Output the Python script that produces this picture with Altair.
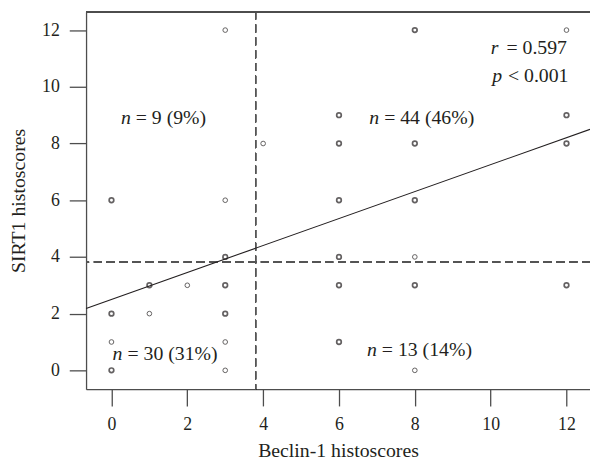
import altair as alt
import pandas as pd

# ---- data ----
beclin = [3, 4, 8, 12, 6, 12, 6, 8, 12, 0, 3, 6, 8, 3, 6, 8,
          1, 2, 3, 6, 8, 12, 0, 1, 3, 0, 3, 6, 0, 3, 8]
sirt1 = [12, 8, 12, 12, 9, 9, 8, 8, 8, 6, 6, 6, 6, 4, 4, 4,
         3, 3, 3, 3, 3, 3, 2, 2, 2, 1, 1, 1, 0, 0, 0]
overlap = [1, 1, 2, 1, 2, 2, 2, 2, 2, 2, 1, 2, 2, 2, 2, 1,
           2, 1, 2, 2, 2, 2, 2, 1, 2, 1, 1, 2, 2, 1, 1]

cut_beclin = 3.8
cut_sirt1 = 3.82
fit_intercept = 2.50
fit_slope = 0.4755

x_domain = [-0.67, 12.62]
y_domain = [-0.663, 12.65]
tick_vals = [0, 2, 4, 6, 8, 10, 12]

quad_x = [0.25, 6.80, 0.03, 6.74]
quad_y = [8.68, 8.68, 0.36, 0.50]
quad_sym = ["n", "n", "n", "n"]
quad_text = ["= 9 (9%)", "= 44 (46%)", "= 30 (31%)", "= 13 (14%)"]

stat_x = [10.0, 10.04]
stat_y = [11.17, 10.18]
stat_sym = ["r", "p"]
stat_text = ["= 0.597", "< 0.001"]

# ---- tables ----
pts = pd.DataFrame({"beclin": beclin, "sirt1": sirt1, "overlap": overlap})
fit = pd.DataFrame({"beclin": x_domain,
                    "sirt1": [fit_intercept + fit_slope * v for v in x_domain]})
quad = pd.DataFrame({"x": quad_x, "y": quad_y, "sym": quad_sym, "txt": quad_text})
stat = pd.DataFrame({"x": stat_x, "y": stat_y, "sym": stat_sym, "txt": stat_text})

FONT = "Liberation Serif"
INK = "#231f20"
W, H = 510, 382

xs = alt.Scale(domain=x_domain, nice=False, zero=False)
ys = alt.Scale(domain=y_domain, nice=False, zero=False)

x_axis = alt.Axis(values=tick_vals, title="Beclin-1 histoscores", grid=False,
                  tickSize=17, labelPadding=24, labelBaseline="alphabetic",
                  titleY=68, titleBaseline="alphabetic", titleX=W / 2)
y_axis = alt.Axis(values=tick_vals, title="SIRT1 histoscores", grid=False,
                  tickSize=17, labelPadding=10,
                  titleAngle=270, titleAlign="center", titleBaseline="alphabetic",
                  titleX=-62, titleY=H / 2)

points = alt.Chart(pts).mark_point(shape="circle", filled=False, size=22, color=INK).encode(
    x=alt.X("beclin:Q", scale=xs, axis=x_axis),
    y=alt.Y("sirt1:Q", scale=ys, axis=y_axis),
    strokeWidth=alt.condition(alt.datum.overlap > 1, alt.value(1.7), alt.value(1.0)),
)

vline = alt.Chart(pts).mark_rule(strokeDash=[8, 5], color="#555555", strokeWidth=1.0).encode(
    x=alt.datum(cut_beclin, scale=xs))
hline = alt.Chart(pts).mark_rule(strokeDash=[8, 5], color="#555555", strokeWidth=1.0).encode(
    y=alt.datum(cut_sirt1, scale=ys))

fitline = alt.Chart(fit).mark_line(color=INK, strokeWidth=1.1).encode(
    x=alt.X("beclin:Q", scale=xs), y=alt.Y("sirt1:Q", scale=ys))

top_border = alt.Chart(pts).mark_rule(color="#4d4d4d", strokeWidth=1.3).encode(
    x=alt.value(0), x2=alt.value(W + 2), y=alt.value(0))

def sym_layer(df):
    return alt.Chart(df).mark_text(font=FONT, fontSize=20, fontStyle="italic",
                                   align="left", baseline="alphabetic", color=INK).encode(
        x=alt.X("x:Q", scale=xs), y=alt.Y("y:Q", scale=ys), text="sym:N")

def txt_layer(df, dx):
    return alt.Chart(df).mark_text(font=FONT, fontSize=20, align="left",
                                   baseline="alphabetic", dx=dx, color=INK).encode(
        x=alt.X("x:Q", scale=xs), y=alt.Y("y:Q", scale=ys), text="txt:N")

chart = alt.layer(
    vline, hline, fitline, points, top_border,
    sym_layer(quad), txt_layer(quad, 15),
    sym_layer(stat), txt_layer(stat, 16),
).properties(
    width=W, height=H,
    autosize=alt.AutoSizeParams(type="none"),
    padding={"left": 79, "top": 1, "right": 0, "bottom": 69},
).configure_view(stroke=None).configure_axis(
    labelFont=FONT, titleFont=FONT, labelFontSize=18, titleFontSize=20,
    labelColor=INK, titleColor=INK, titleFontWeight="normal",
    domainColor="#4d4d4d", tickColor="#4d4d4d", domainWidth=1.3, tickWidth=1.3,
)

chart.save("out.html", embed_options={"renderer": "svg", "actions": False})
